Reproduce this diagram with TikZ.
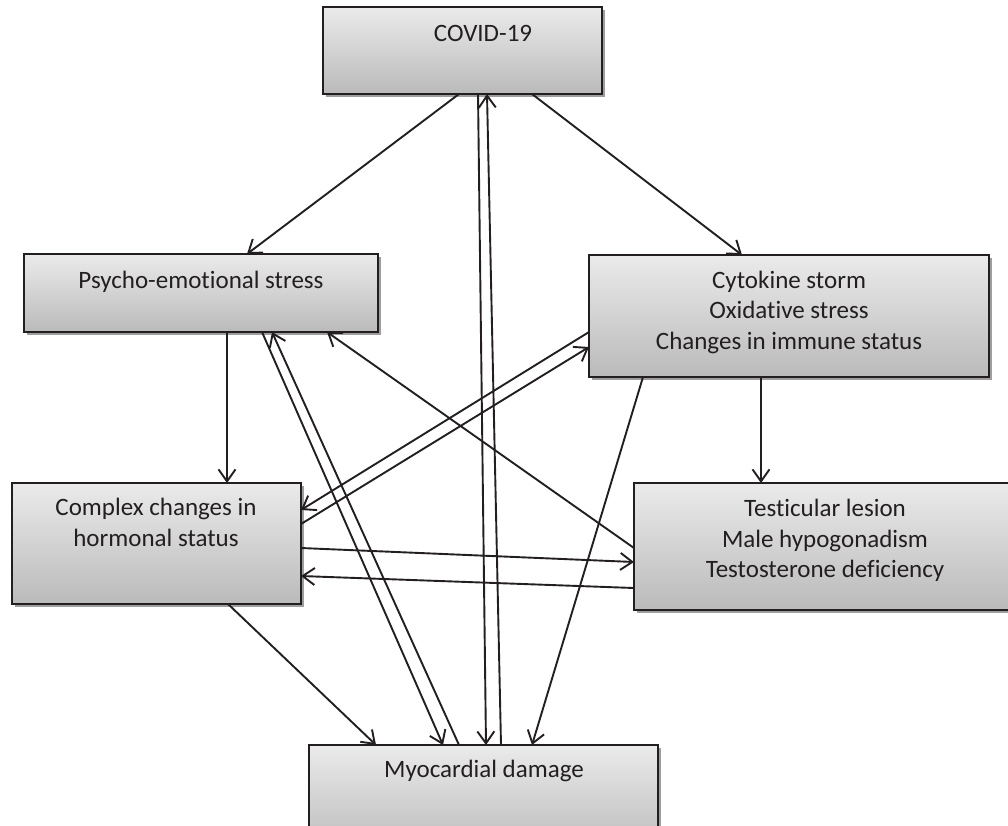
\documentclass[tikz,border=0pt]{standalone}
\usepackage{fontspec}
\setmainfont[Ligatures={NoCommon}]{Carlito}
\usetikzlibrary{arrows.meta,shadows}
\definecolor{ink}{HTML}{231F20}
\begin{document}
\begin{tikzpicture}[x=1pt,y=-1pt,
  box/.style={draw=ink, line width=1.6pt, top color=black!8, bottom color=black!27,
    drop shadow={shadow xshift=2.5pt,shadow yshift=-2.5pt,fill=black!38,opacity=1},
    anchor=north west, inner sep=0pt, outer sep=0pt},
  lbl/.style={anchor=base, inner sep=0pt, font=\fontsize{25}{30}\selectfont, text=ink},
  arr/.style={draw=ink, line width=1.9pt, -{Straight Barb[length=12pt,width=17pt]}}]
\useasboundingbox (0,0) rectangle (1008,825);
% boxes
\node[box, minimum width=279pt, minimum height=87pt]  (covid) at (323,7)   {};
\node[box, minimum width=354pt, minimum height=78pt]  (psy)   at (24,254)  {};
\node[box, minimum width=400pt, minimum height=122pt] (cyt)   at (589,255) {};
\node[box, minimum width=289pt, minimum height=121pt] (comp)  at (12,483)  {};
\node[box, minimum width=385pt, minimum height=127pt] (test)  at (634,483) {};
\node[box, minimum width=349pt, minimum height=110pt] (myo)   at (309,745) {};
% texts
\node[lbl] (tcovid) at (483,41)  {COVID-19};
\node[lbl] (tpsy)   at (201,288) {Psycho-emotional stress};
\node[lbl] (tcyt1)  at (789,288) {Cytokine storm};
\node[lbl] (tcyt2)  at (789,318) {Oxidative stress};
\node[lbl] (tcyt3)  at (789,349) {Changes in immune status};
\node[lbl] (tcomp1) at (156,515) {Complex changes in};
\node[lbl] (tcomp2) at (156,546) {hormonal status};
\node[lbl] (ttest1) at (825,516) {Testicular lesion};
\node[lbl] (ttest2) at (825,547) {Male hypogonadism};
\node[lbl] (ttest3) at (825,577) {Testosterone deficiency};
\node[lbl] (tmyo)   at (484,777) {Myocardial damage};
% connectors
\draw[arr] ([shift={(136,0)}]covid.south west) -- ([shift={(223,0)}]psy.north west);
\draw[arr] ([shift={(209,0)}]covid.south west) -- ([shift={(153,0)}]cyt.north west);
\draw[arr] ([shift={(155,0)}]covid.south west) -- ([shift={(177,0)}]myo.north west);
\draw[arr] ([shift={(192,0)}]myo.north west) -- ([shift={(164,0)}]covid.south west);
\draw[arr] ([shift={(203,0)}]psy.south west) -- ([shift={(215,0)}]comp.north west);
\draw[arr] ([shift={(238,0)}]psy.south west) -- ([shift={(134,0)}]myo.north west);
\draw[arr] ([shift={(150,0)}]myo.north west) -- ([shift={(248,0)}]psy.south west);
\draw[arr] ([shift={(0,65)}]test.north west) -- ([shift={(303,0)}]psy.south west);
\draw[arr] ([shift={(0,77)}]cyt.north west) -- ([shift={(0,27)}]comp.north east);
\draw[arr] ([shift={(0,41)}]comp.north east) -- ([shift={(0,92)}]cyt.north west);
\draw[arr] ([shift={(172,0)}]cyt.south west) -- ([shift={(127,0)}]test.north west);
\draw[arr] ([shift={(54,0)}]cyt.south west) -- ([shift={(223,0)}]myo.north west);
\draw[arr] ([shift={(0,65)}]comp.north east) -- ([shift={(0,79)}]test.north west);
\draw[arr] ([shift={(0,105)}]test.north west) -- ([shift={(0,93)}]comp.north east);
\draw[arr] ([shift={(216,0)}]comp.south west) -- ([shift={(67,0)}]myo.north west);
\end{tikzpicture}
\end{document}
